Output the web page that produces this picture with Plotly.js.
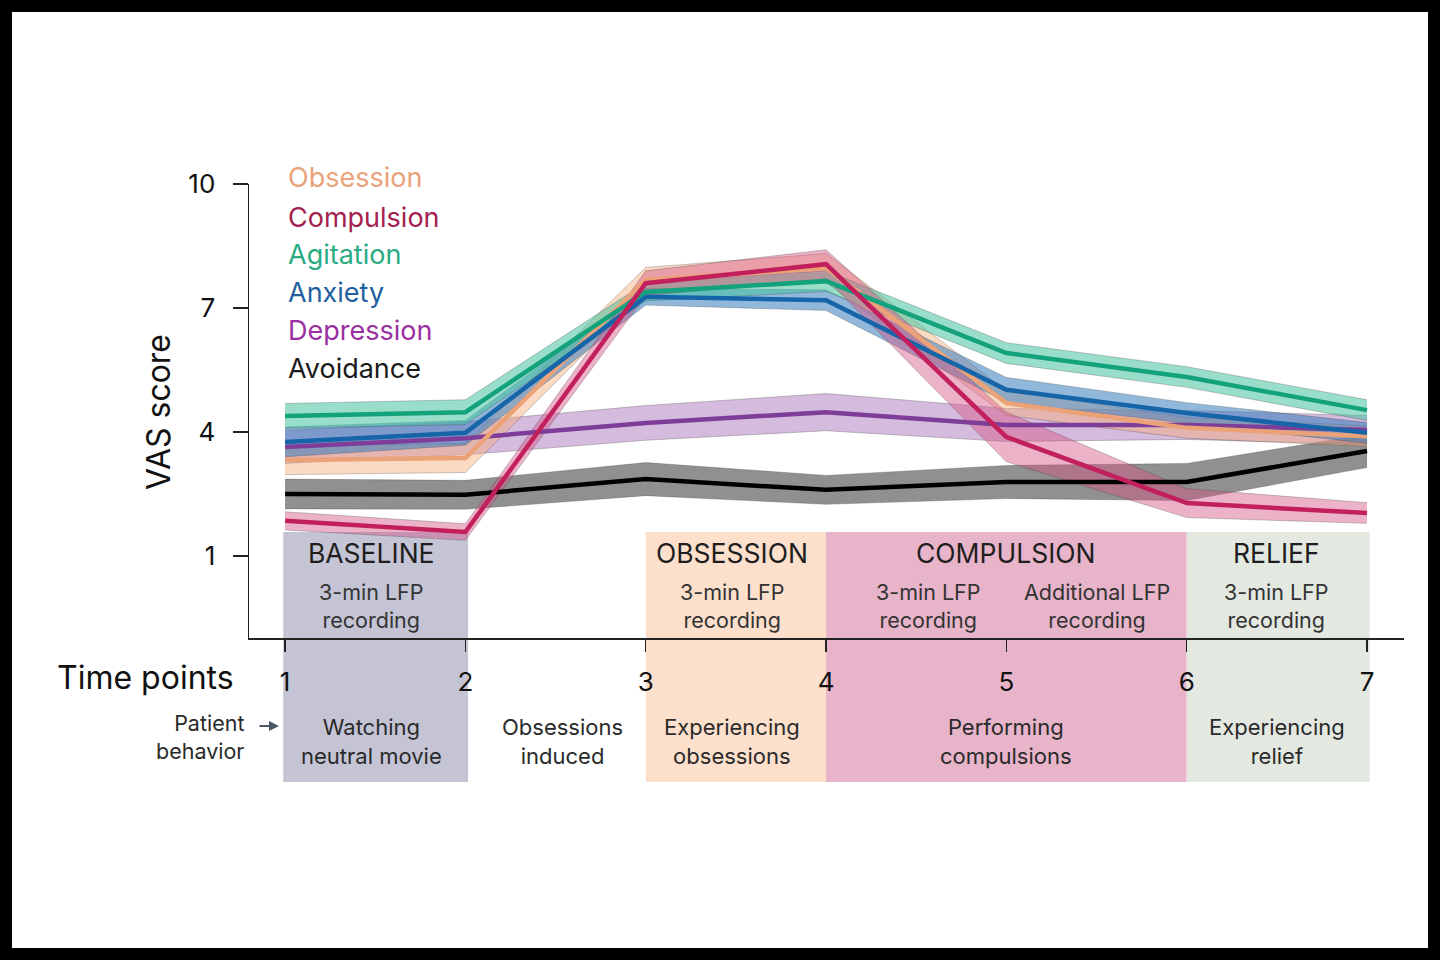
<!DOCTYPE html>
<html>
<head>
<meta charset="utf-8">
<script src="https://cdn.plot.ly/plotly-3.0.1.min.js"></script>
<style>
  html, body { margin:0; padding:0; background:#000; }
  #frame { position:absolute; left:0; top:0; width:1440px; height:960px; background:#000; }
  #chart { position:absolute; left:12px; top:12px; width:1416px; height:936px; background:#fff; }
</style>
</head>
<body>
<div id="frame"><div id="chart"></div></div>
<script>
// ---- data ----
const timePoints = [1, 2, 3, 4, 5, 6, 7];
const seriesNames = ["Obsession", "Compulsion", "Agitation", "Anxiety", "Depression", "Avoidance"];

const obsessionMean  = [3.32, 3.37, 7.68, 7.97, 4.70, 4.10, 3.90];
const obsessionSE    = [0.35, 0.35, 0.30, 0.35, 0.30, 0.25, 0.25];
const compulsionMean = [1.85, 1.58, 7.60, 8.06, 3.88, 2.28, 2.04];
const compulsionSE   = [0.22, 0.20, 0.30, 0.35, 0.60, 0.35, 0.25];
const agitationMean  = [4.39, 4.48, 7.39, 7.65, 5.91, 5.33, 4.53];
const agitationSE    = [0.30, 0.30, 0.22, 0.25, 0.25, 0.25, 0.25];
const anxietyMean    = [3.76, 3.98, 7.27, 7.19, 5.02, 4.46, 3.98];
const anxietySE      = [0.36, 0.30, 0.20, 0.25, 0.30, 0.25, 0.25];
const depressionMean = [3.64, 3.85, 4.22, 4.48, 4.17, 4.17, 4.05];
const depressionSE   = [0.40, 0.40, 0.42, 0.45, 0.40, 0.35, 0.35];
const avoidanceMean  = [2.50, 2.48, 2.86, 2.60, 2.79, 2.79, 3.54];
const avoidanceSE    = [0.36, 0.35, 0.40, 0.35, 0.40, 0.45, 0.40];

const yTickValues = [1, 4, 7, 10];
const xTickValues = [1, 2, 3, 4, 5, 6, 7];

const phaseNames   = ["BASELINE", "OBSESSION", "COMPULSION", "RELIEF"];
const phaseStart   = [0.99, 3, 4, 6];
const phaseEnd     = [2.015, 4, 6, 7.015];
const recordingLabels = [
  {t: 1.48, text: "3-min LFP<br>recording"},
  {t: 3.48, text: "3-min LFP<br>recording"},
  {t: 4.57, text: "3-min LFP<br>recording"},
  {t: 5.5,  text: "Additional LFP<br>recording"},
  {t: 6.5,  text: "3-min LFP<br>recording"}
];
const phaseCenters = [1.48, 3.48, 5, 6.5];
const behaviorLabels = [
  {t: 1.48, text: "Watching<br>neutral movie"},
  {t: 2.54, text: "Obsessions<br>induced"},
  {t: 3.48, text: "Experiencing<br>obsessions"},
  {t: 5,    text: "Performing<br>compulsions"},
  {t: 6.5,  text: "Experiencing<br>relief"}
];

// ---- styles ----
const FONT = "Inter, 'Open Sans', sans-serif";
const lineColors = {
  Obsession:  "#eba277",
  Compulsion: "#c2205c",
  Agitation:  "#13a27c",
  Anxiety:    "#1565a8",
  Depression: "#7e3d98",
  Avoidance:  "#000000"
};
const bandColors = {
  Obsession:  "rgba(246,172,122,0.45)",
  Compulsion: "rgba(212,84,134,0.45)",
  Agitation:  "rgba(70,195,160,0.55)",
  Anxiety:    "rgba(55,125,190,0.55)",
  Depression: "rgba(150,85,170,0.40)",
  Avoidance:  "rgba(85,85,85,0.65)"
};
const legendColors = {
  Obsession:  "#e9a27a",
  Compulsion: "#a3204f",
  Agitation:  "#2aab82",
  Anxiety:    "#1f5f9f",
  Depression: "#9a2fa0",
  Avoidance:  "#1a1a1a"
};
const phaseColors = ["#c4c4d4", "#fde0cc", "#e8b4c9", "#e3e8e1"];

const seriesData = {
  Obsession:  [obsessionMean, obsessionSE],
  Compulsion: [compulsionMean, compulsionSE],
  Agitation:  [agitationMean, agitationSE],
  Anxiety:    [anxietyMean, anxietySE],
  Depression: [depressionMean, depressionSE],
  Avoidance:  [avoidanceMean, avoidanceSE]
};

// drawing order (bottom to top)
const drawOrder = ["Avoidance", "Depression", "Obsession", "Anxiety", "Agitation", "Compulsion"];

const traces = [];
drawOrder.forEach(name => {
  const [m, se] = seriesData[name];
  const upper = m.map((v, i) => v + se[i]);
  const lower = m.map((v, i) => v - se[i]);
  traces.push({x: timePoints, y: upper, mode: "lines", line: {color: "rgba(60,60,60,0.35)", width: 0.8},
    hoverinfo: "skip", showlegend: false});
  traces.push({x: timePoints, y: lower, mode: "lines", line: {color: "rgba(60,60,60,0.35)", width: 0.8},
    fill: "tonexty", fillcolor: bandColors[name], hoverinfo: "skip", showlegend: false});
});
drawOrder.forEach(name => {
  const [m] = seriesData[name];
  traces.push({x: timePoints, y: m, mode: "lines", name: name,
    line: {color: lineColors[name], width: 4.5}, showlegend: false});
});

// pixel helpers (page coordinates -> paper)
const PL = 249, PR = 1404, PT = 184, PB = 638;
const px = X => (X - PL) / (PR - PL);
const py = Y => (PB - Y) / (PB - PT);

const shapes = phaseNames.map((n, i) => ({
  type: "rect", layer: "below", xref: "x", yref: "paper",
  x0: phaseStart[i], x1: phaseEnd[i], y0: py(782), y1: py(532),
  fillcolor: phaseColors[i], line: {width: 0}
}));

const annotations = [];
// legend text
const legendY = [178, 217, 254, 292, 330, 368];
seriesNames.forEach((n, i) => {
  annotations.push({xref: "paper", yref: "paper", x: px(286), y: py(legendY[i]), xanchor: "left", yanchor: "middle",
    text: n, showarrow: false, font: {family: FONT, size: 27, color: legendColors[n]}});
});
// phase headings
phaseNames.forEach((n, i) => {
  annotations.push({xref: "x", yref: "paper", x: phaseCenters[i], y: py(553), xanchor: "center", yanchor: "middle",
    text: n, showarrow: false, font: {family: FONT, size: 26.5, color: "#1e1e1e"}});
});
recordingLabels.forEach(r => {
  annotations.push({xref: "x", yref: "paper", x: r.t, y: py(606), xanchor: "center", yanchor: "middle",
    text: r.text, showarrow: false, font: {family: FONT, size: 21.5, color: "#333"}});
});
behaviorLabels.forEach(r => {
  annotations.push({xref: "x", yref: "paper", x: r.t, y: py(741), xanchor: "center", yanchor: "middle",
    text: r.text, showarrow: false, font: {family: FONT, size: 22, color: "#2a2a2a"}});
});
annotations.push({xref: "paper", yref: "paper", x: px(145), y: py(677), xanchor: "center", yanchor: "middle",
  text: "Time points", showarrow: false, font: {family: FONT, size: 32, color: "#111"}});
annotations.push({xref: "paper", yref: "paper", x: px(246), y: py(737), xanchor: "right", yanchor: "middle",
  text: "Patient<br>behavior", showarrow: false, align: "right", font: {family: FONT, size: 21.5, color: "#2a2a2a"}});
annotations.push({xref: "paper", yref: "paper", x: px(279), y: py(726), axref: "pixel", ayref: "pixel",
  ax: -21, ay: 0, text: "", showarrow: true, arrowhead: 2, arrowsize: 1, arrowwidth: 2, arrowcolor: "#4a5866"});
annotations.push({xref: "paper", yref: "paper", x: px(158), y: py(412), xanchor: "center", yanchor: "middle",
  text: "VAS score", textangle: -90, showarrow: false, font: {family: FONT, size: 32, color: "#111"}});

const layout = {
  width: 1416, height: 936,
  margin: {l: PL - 12, r: 1416 - (PR - 12), t: PT - 12, b: 936 - (PB - 12), pad: 0},
  paper_bgcolor: "#ffffff", plot_bgcolor: "rgba(0,0,0,0)",
  showlegend: false,
  font: {family: FONT, color: "#111"},
  xaxis: {
    range: [0.8, 7.205], tickvals: xTickValues, ticktext: xTickValues.map(String),
    showgrid: false, zeroline: false, showline: true, linecolor: "#222", linewidth: 1.5,
    ticks: "outside", ticklen: 12, tickwidth: 1.5, tickcolor: "#222",
    ticklabelstandoff: 8, tickfont: {family: FONT, size: 26, color: "#111"}, fixedrange: true
  },
  yaxis: {
    range: [-0.984, 10], tickvals: yTickValues, ticktext: yTickValues.map(String),
    showgrid: false, zeroline: false, showline: true, linecolor: "#222", linewidth: 1.5,
    ticks: "outside", ticklen: 15, tickwidth: 1.5, tickcolor: "#222",
    ticklabelstandoff: 12, tickfont: {family: FONT, size: 26, color: "#111"}, fixedrange: true
  },
  shapes: shapes,
  annotations: annotations
};

Plotly.newPlot("chart", traces, layout, {displayModeBar: false, staticPlot: true});
</script>
</body>
</html>
